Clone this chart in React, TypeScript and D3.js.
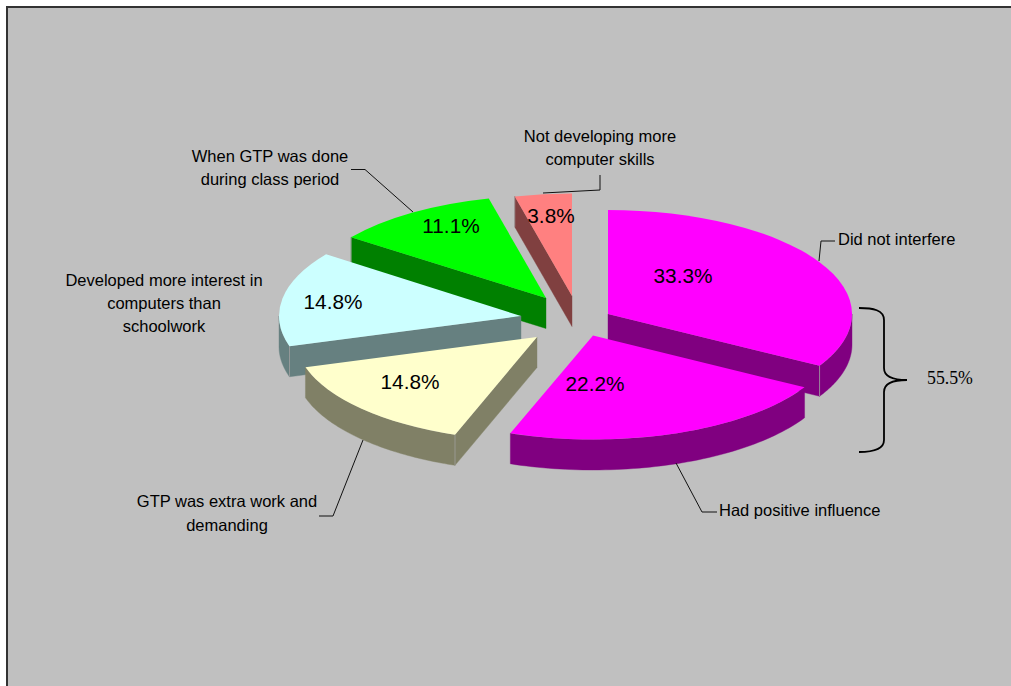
import React from "react";
import * as d3 from "d3";

// Survey shares, clockwise from twelve o'clock
const sliceNames = [
  "Did not interfere",
  "Had positive influence",
  "GTP was extra work and demanding",
  "Developed more interest in computers than schoolwork",
  "When GTP was done during class period",
  "Not developing more computer skills",
];
const sliceValues = [33.3, 22.2, 14.8, 14.8, 11.1, 3.8];
const sliceLabels = ["33.3%", "22.2%", "14.8%", "14.8%", "11.1%", "3.8%"];
const groupedLabel = "55.5%";

const WIDTH = 1011;
const HEIGHT = 686;
const DEPTH = 30.5;
const CENTER = { x: 572, y: 320 };

// Explosion of each wedge away from the pie centre
const explode = [
  [36, -6],
  [21, 15.5],
  [-35, 17],
  [-51, -4],
  [-26, -22],
  [0, -24],
];
// Wedges further from the viewer come out slightly smaller
const radiusX = [244, 244, 242, 242, 242, 242];
const radiusY = [104, 104, 104, 104, 102.5, 102.5];
const topColors = ["#ff00ff", "#ff00ff", "#ffffcc", "#ccffff", "#00ff00", "#ff8080"];
const sideColors = ["#800080", "#800080", "#808066", "#668080", "#008000", "#804040"];
// Painter's order: back wedges first, the nearest one last
const paintOrder = [5, 4, 3, 2, 0, 1];

const percentX = [683, 595, 410, 333, 451, 551];
const percentY = [283, 391, 389, 309, 233, 223];

const callouts = [
  { lines: ["Did not interfere"], x: 838, y: [245], anchor: "start", leader: [[819, 261], [821, 241], [835, 241]] },
  { lines: ["Had positive influence"], x: 719, y: [516], anchor: "start", leader: [[676, 463], [702, 512], [717, 512]] },
  { lines: ["GTP was extra work and", "demanding"], x: 227, y: [507, 531], anchor: "middle", leader: [[363, 440], [333, 516], [319, 516]] },
  { lines: ["Developed more interest in", "computers than", "schoolwork"], x: 164, y: [286, 309, 332], anchor: "middle", leader: [] },
  { lines: ["When GTP was done", "during class period"], x: 270, y: [162, 185], anchor: "middle", leader: [[413, 212], [365, 169.5], [351, 169.5]] },
  { lines: ["Not developing more", "computer skills"], x: 600, y: [142, 165], anchor: "middle", leader: [[543, 193], [600, 190], [600, 175]] },
];

const pieLayout = d3.pie<number>().sort(null).value((d) => d).startAngle(0).endAngle(2 * Math.PI);
const topArc = d3.arc();
const outline = d3.line();

function Wedge({ index, a0, a1 }: { index: number; a0: number; a1: number }) {
  const ox = CENTER.x + explode[index][0];
  const oy = CENTER.y + explode[index][1];
  const rx = radiusX[index];
  const ry = radiusY[index];
  const side = sideColors[index];

  // Screen position of a rim point on the flattened ellipse
  const rim = (a: number, dy = 0): [number, number] => [ox + rx * Math.sin(a), oy - ry * Math.cos(a) + dy];

  const walls: [number, number][][] = [];
  const corners: number[] = [];
  // Radial walls only show when they turn toward the viewer
  if (Math.sin(a0) < -1e-6) {
    walls.push([[ox, oy], rim(a0), rim(a0, DEPTH), [ox, oy + DEPTH]]);
    corners.push(a0);
  }
  if (Math.sin(a1) > 1e-6) {
    walls.push([[ox, oy], rim(a1), rim(a1, DEPTH), [ox, oy + DEPTH]]);
    corners.push(a1);
  }
  // Outer rim wall covers only the front half of the ellipse
  const f0 = Math.max(a0, Math.PI / 2);
  const f1 = Math.min(a1, (3 * Math.PI) / 2);
  if (f1 > f0) {
    const steps = d3.range(0, 61).map((i) => f0 + ((f1 - f0) * i) / 60);
    walls.push([
      ...steps.map((a) => rim(a)),
      ...steps.slice().reverse().map((a) => rim(a, DEPTH)),
    ]);
  }

  return (
    <g>
      {walls.map((w, i) => (
        <path key={i} d={outline(w) + "Z"} fill={side} stroke={side} strokeWidth={0.4} />
      ))}
      {corners.map((a) => (
        <path key={a} d={outline([rim(a), rim(a, DEPTH)]) as string} stroke="#a0a0a0" strokeWidth={0.8} fill="none" />
      ))}
      <path
        d={topArc({ innerRadius: 0, outerRadius: rx, startAngle: a0, endAngle: a1 } as any) as string}
        transform={`translate(${ox},${oy}) scale(1,${ry / rx})`}
        fill={topColors[index]}
      />
    </g>
  );
}

export default function App() {
  const arcs = pieLayout(sliceValues);
  return (
    <svg
      width={WIDTH}
      height={HEIGHT}
      viewBox={`0 0 ${WIDTH} ${HEIGHT}`}
      style={{ position: "fixed", left: 0, top: 0, display: "block" }}
    >
      <rect x={0} y={0} width={WIDTH} height={HEIGHT} fill="#ffffff" />
      <rect x={7} y={7} width={WIDTH + 20} height={HEIGHT + 20} fill="#c0c0c0" stroke="#333333" strokeWidth={2} />

      {paintOrder.map((i) => (
        <Wedge key={sliceNames[i]} index={i} a0={arcs[i].startAngle} a1={arcs[i].endAngle} />
      ))}

      <g fontFamily="'Liberation Sans', Arial, sans-serif" fontSize={20.8} fill="#000" textAnchor="middle">
        {sliceLabels.map((t, i) => (
          <text key={i} x={percentX[i]} y={percentY[i]}>{t}</text>
        ))}
      </g>

      {callouts.map((c, i) => (
        <g key={i}>
          {c.leader.length > 0 && (
            <path d={outline(c.leader as [number, number][]) as string} fill="none" stroke="#111" strokeWidth={1} />
          )}
          {c.lines.map((t, j) => (
            <text
              key={j}
              x={c.x}
              y={c.y[j]}
              textAnchor={c.anchor as "start" | "middle"}
              fontFamily="'Liberation Sans', Arial, sans-serif"
              fontSize={16.5}
              fill="#000"
            >
              {t}
            </text>
          ))}
        </g>
      ))}

      <path
        d="M859,308 C873,308 884,310 884,320 L884,368 C884,376 892,380 907,380 C892,380 884,384 884,392 L884,440 C884,449 873,452 859,452"
        fill="none"
        stroke="#000"
        strokeWidth={1.8}
      />
      <text x={927} y={384} fontFamily="'Liberation Serif', 'Times New Roman', serif" fontSize={17.8} fill="#000">
        {groupedLabel}
      </text>
    </svg>
  );
}
